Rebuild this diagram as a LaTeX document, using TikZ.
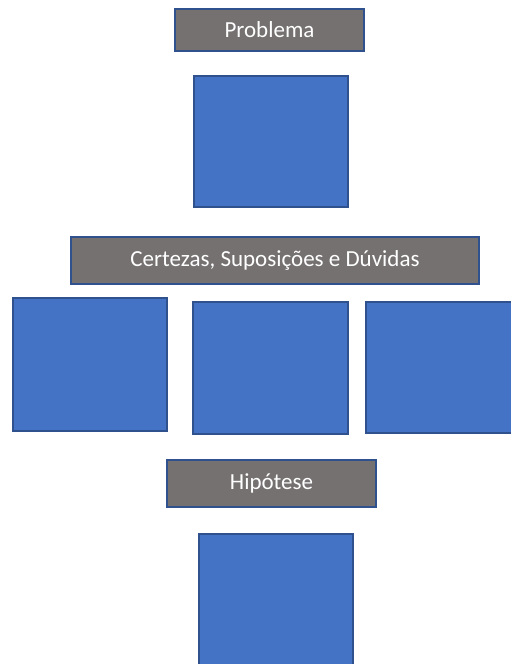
\documentclass[tikz,border=0pt]{standalone}
\usepackage{fontspec}
\setmainfont{Carlito}
\usepackage{tikz}

\definecolor{boxblue}{HTML}{4472C4}
\definecolor{edgeblue}{HTML}{2F528F}
\definecolor{titlegray}{HTML}{767171}

\begin{document}
\begin{tikzpicture}[x=1bp,y=-1bp,
    title/.style={draw=edgeblue,line width=1.5bp,fill=titlegray,text=white,
      inner sep=0pt,font=\fontsize{23bp}{27bp}\selectfont},
    card/.style={draw=edgeblue,line width=1.5bp,fill=boxblue,inner sep=0pt}]
    \clip (0,0) rectangle (511,664);
    \node[title,minimum width=189bp,minimum height=42bp] (prob) at (269.5,30) {Problema};
    \node[card,minimum width=154bp,minimum height=131bp] (probcard) at (271,141.5) {};

    \node[title,minimum width=408bp,minimum height=47bp] (cert) at (275,260.5) {Certezas, Suposições e Dúvidas};
    \node[card,minimum width=154bp,minimum height=133bp] (certa) at (90,364.5) {};
    \node[card,minimum width=155bp,minimum height=132bp] (certb) at (270.5,368) {};
    \node[card,minimum width=154bp,minimum height=131bp] (certc) at (443,367.5) {};

    \node[title,minimum width=209bp,minimum height=47bp] (hip) at (271.5,483.5) {Hipótese};
    \node[card,minimum width=154bp,minimum height=131bp] (hipcard) at (276,599.5) {};
  \end{tikzpicture}
\end{document}
